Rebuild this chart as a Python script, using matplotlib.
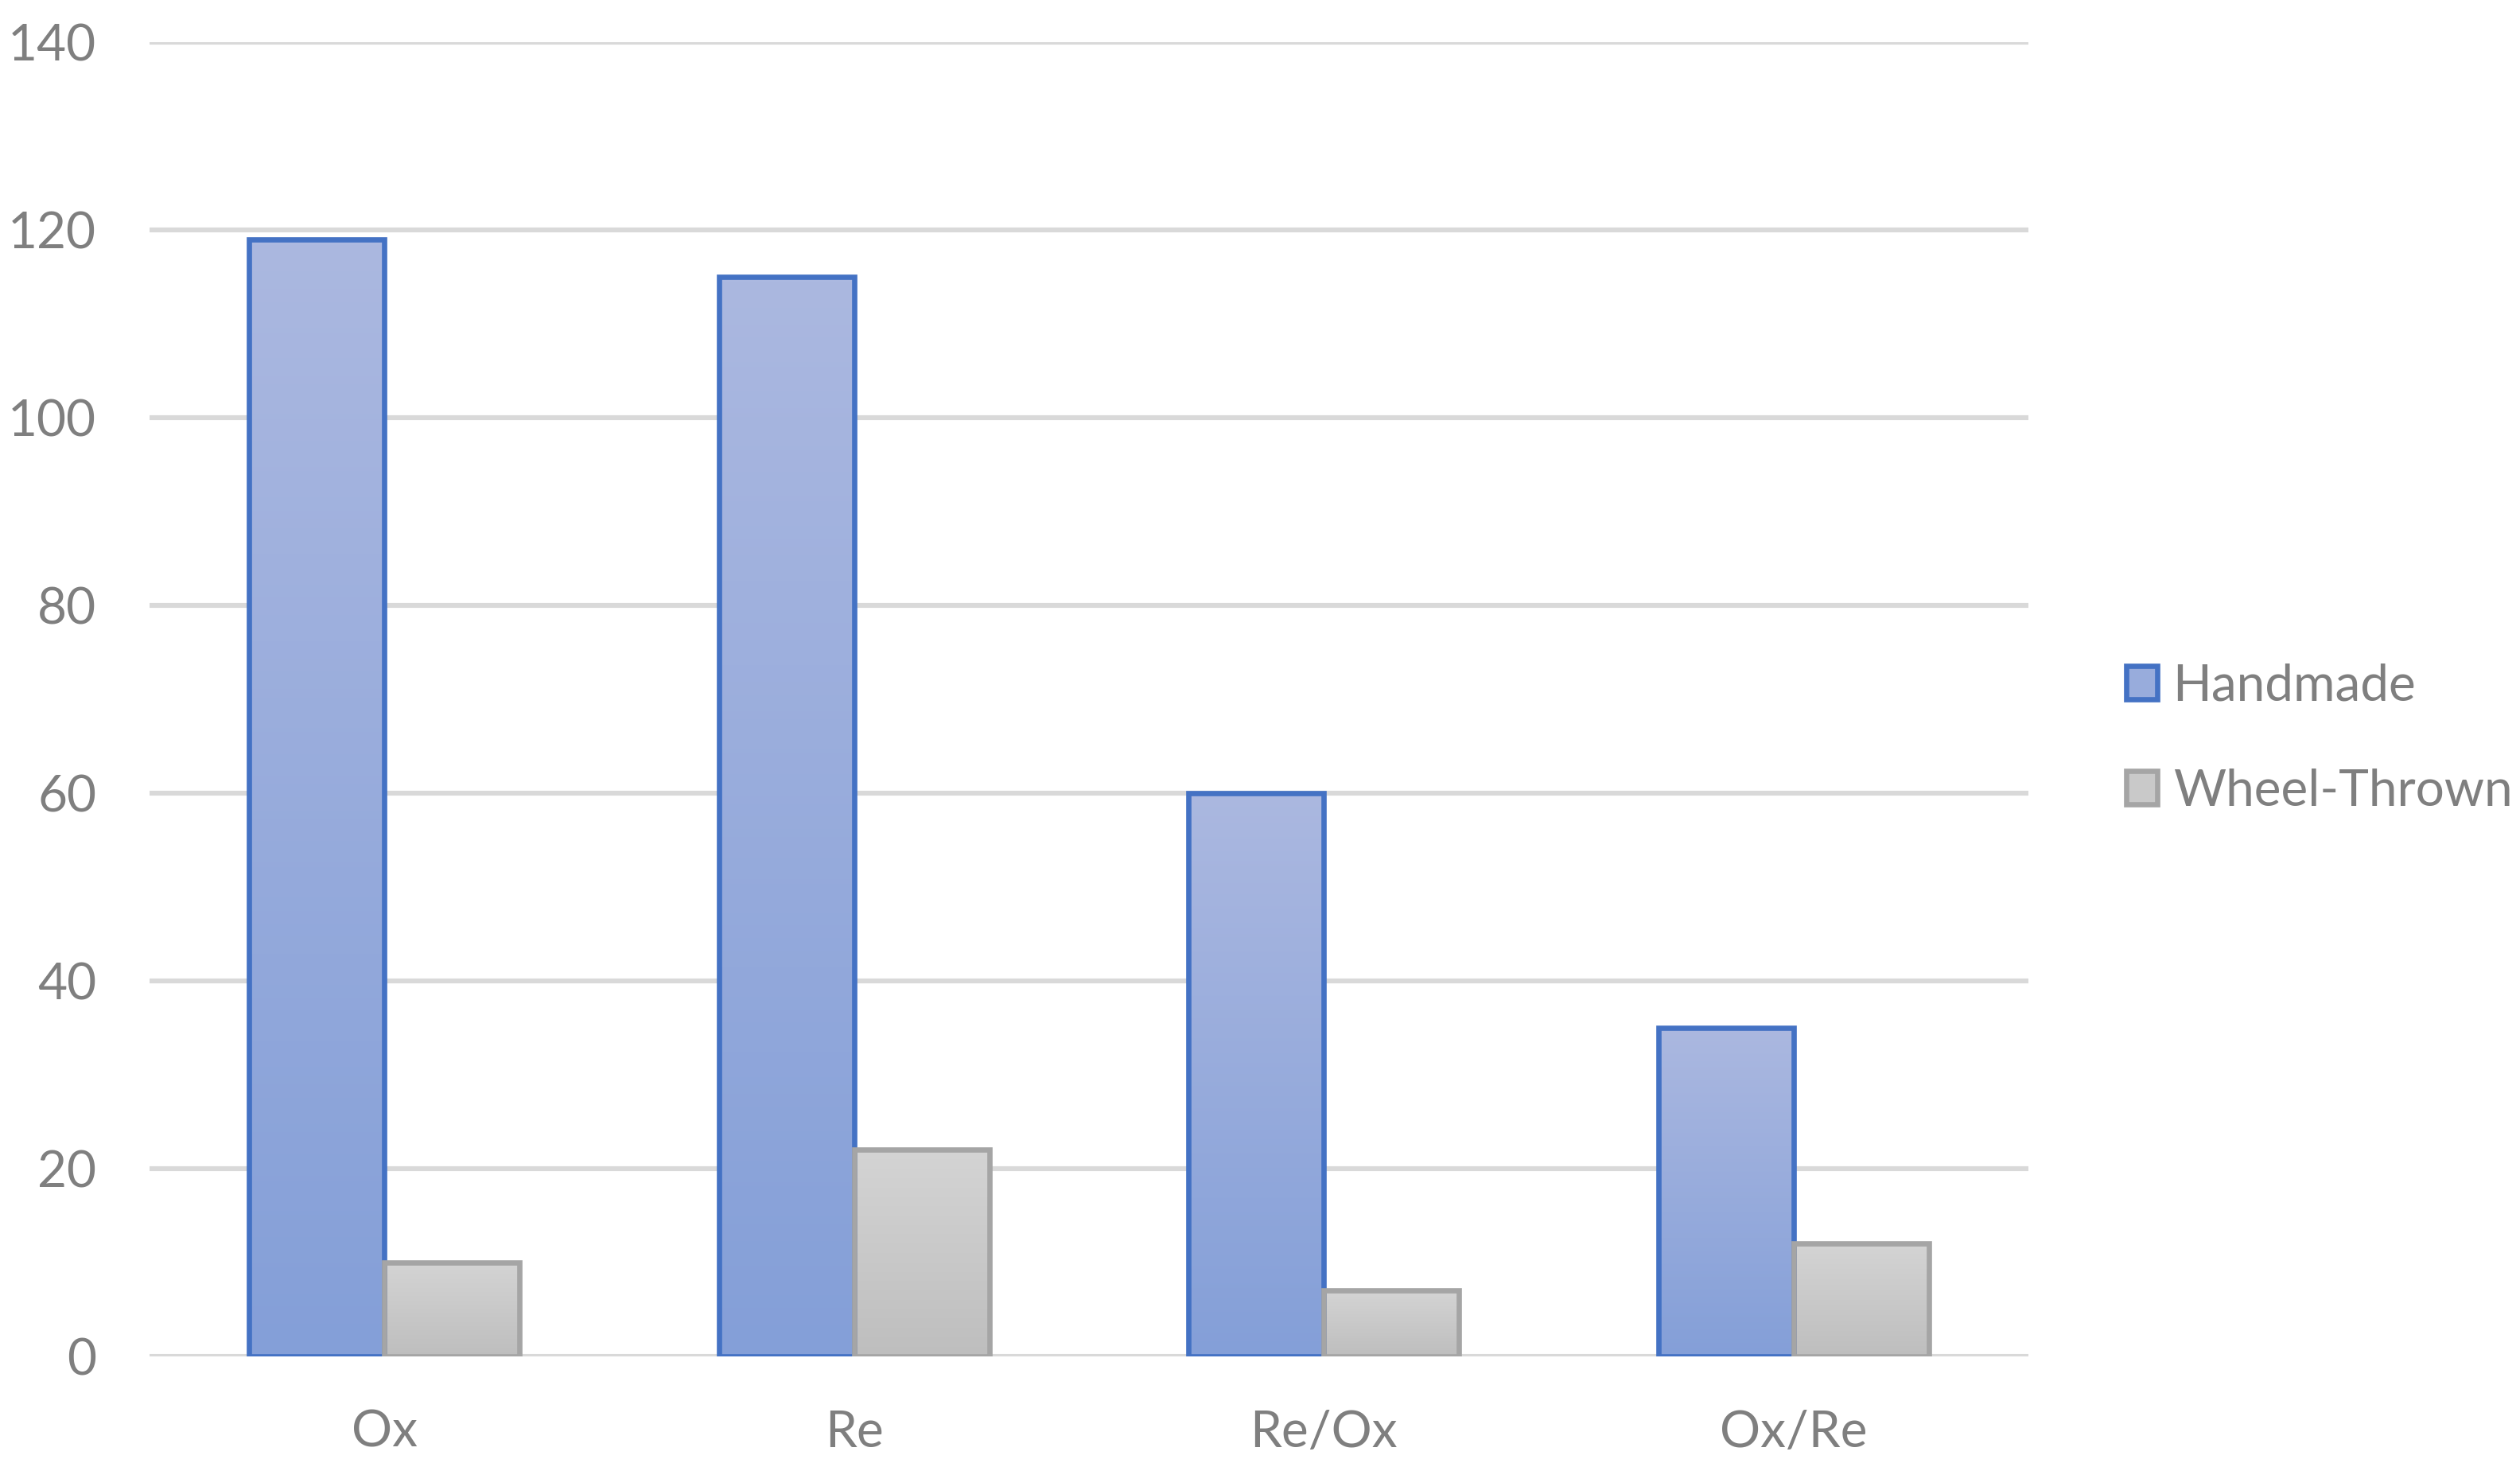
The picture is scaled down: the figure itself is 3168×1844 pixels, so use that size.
import numpy as np
import matplotlib
matplotlib.use("Agg")
import matplotlib.pyplot as plt
from matplotlib.colors import LinearSegmentedColormap
from matplotlib.patches import Patch

categories = ["Ox", "Re", "Re/Ox", "Ox/Re"]
handmade = [119, 115, 60, 35]
wheel_thrown = [10, 22, 7, 12]
series_names = ["Handmade", "Wheel-Thrown"]
y_ticks = [0, 20, 40, 60, 80, 100, 120, 140]

plt.rcParams['font.family'] = ['Lato', 'DejaVu Sans']
TXT = "#7F7F7F"

fig = plt.figure(figsize=(15.84, 9.22), dpi=200)
ax = fig.add_axes([0.0593, 0.0754, 0.7457, 0.8959])

x = np.arange(len(categories))
w = 0.288

styles = [
    dict(top="#ABB8E0", bottom="#849FD8", edge="#4472C4"),
    dict(top="#D4D4D4", bottom="#BEBEBE", edge="#A5A5A5"),
]

grad = np.linspace(1, 0, 256).reshape(-1, 1)
handles = []
for vals, off, st, name in zip([handmade, wheel_thrown], [-w / 2, w / 2], styles, series_names):
    cmap = LinearSegmentedColormap.from_list(name, [st["bottom"], st["top"]])
    bars = ax.bar(x + off, vals, width=w, facecolor="none", edgecolor=st["edge"],
                  linewidth=2.4, zorder=3)
    for p in bars:
        x0, h, bw = p.get_x(), p.get_height(), p.get_width()
        im = ax.imshow(grad, extent=[x0, x0 + bw, 0, h], aspect="auto", cmap=cmap,
                       vmin=0, vmax=1, zorder=2, interpolation="bilinear")
        im.set_clip_path(p)
    mid = cmap(0.5)
    handles.append(Patch(facecolor=mid, edgecolor=st["edge"], linewidth=2.4, label=name))

ax.set_xlim(-0.5, len(categories) - 0.5)
ax.set_ylim(0, 140)
ax.set_yticks(y_ticks)
ax.set_xticks(x)
ax.set_xticklabels(categories)
ax.yaxis.grid(True, color="#D9D9D9", linewidth=2.2)
ax.set_axisbelow(True)
for s in ax.spines.values():
    s.set_visible(False)
ax.tick_params(axis="both", length=0, labelsize=23, labelcolor=TXT)
ax.tick_params(axis="y", pad=24)
ax.tick_params(axis="x", pad=24)

leg = fig.legend(handles=handles, loc="center left", bbox_to_anchor=(0.8437, 0.4965),
                 frameon=False, fontsize=23, handlelength=0.62, handleheight=0.62,
                 handletextpad=0.3, labelspacing=1.16, borderaxespad=0, borderpad=0)
for t in leg.get_texts():
    t.set_color(TXT)

fig.savefig("out.png", dpi=200, facecolor="white")
